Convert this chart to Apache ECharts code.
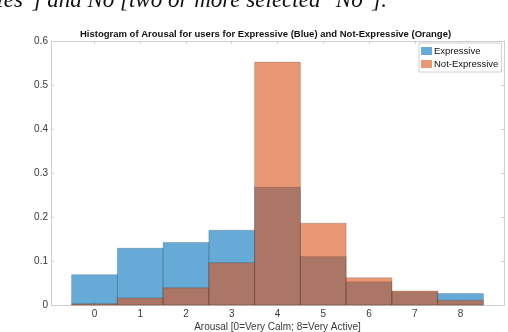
<!DOCTYPE html>
<html><head><meta charset="utf-8">
<script src="https://cdn.jsdelivr.net/npm/echarts@6/dist/echarts.min.js"></script>
<style>html,body{margin:0;padding:0;background:#fff}#c{width:508px;height:332px}</style>
</head><body><div id="c"></div>
<script>
const bins = [0, 1, 2, 3, 4, 5, 6, 7, 8];
const expressive = [0.069, 0.129, 0.142, 0.170, 0.268, 0.110, 0.053, 0.030, 0.026];
const notExpressive = [0.003, 0.016, 0.039, 0.096, 0.552, 0.186, 0.062, 0.032, 0.011];
const yTicks = [0, 0.1, 0.2, 0.3, 0.4, 0.5, 0.6];
const titleText = 'Histogram of Arousal for users for Expressive (Blue) and Not-Expressive (Orange)';
const xLabel = 'Arousal [0=Very Calm; 8=Very Active]';
const docLine = 'Yes"] and No [two or more selected "No"].';

const chart = echarts.init(document.getElementById('c'), null, {renderer: 'canvas'});
const axisCol = '#cfcfcf';
const txtCol = '#3a3a3a';
const font = 'Liberation Sans, Arial, sans-serif';

function mk(values) {
  return bins.map((b, i) => [b, values[i]]);
}
function render(fill) {
  return function (params, api) {
    const x = api.value(0), y = api.value(1);
    const p1 = api.coord([x - 0.5, y]);
    const p2 = api.coord([x + 0.5, 0]);
    return {
      type: 'rect',
      shape: {x: p1[0], y: p1[1], width: p2[0] - p1[0], height: p2[1] - p1[1]},
      style: {fill: fill, stroke: 'rgba(0,0,0,0.22)', lineWidth: 0.8}
    };
  };
}
const xCommon = {
  type: 'value', min: -0.95, max: 8.95,
  axisLine: {show: true, onZero: false, lineStyle: {color: axisCol, width: 1}},
  splitLine: {show: false}
};
const yCommon = {
  type: 'value', min: 0, max: 0.6, interval: 0.1,
  axisLine: {show: true, onZero: false, lineStyle: {color: axisCol, width: 1}},
  splitLine: {show: false}
};
chart.setOption({
  animation: false,
  grid: {left: 51, right: 4, top: 41, bottom: 27, containLabel: false, outerBoundsMode: 'none'},
  title: {
    text: titleText, left: 75, top: 24,
    textStyle: {fontSize: 9.5, fontWeight: 'bold', color: '#111', fontFamily: font}
  },
  graphic: [{
    type: 'text', x: 387, y: 12,
    style: {text: docLine, font: 'italic 23px "Liberation Serif", serif', fill: '#111',
            align: 'right', verticalAlign: 'bottom'}
  }],
  legend: {
    orient: 'vertical', left: 419, top: 43,
    itemWidth: 11, itemHeight: 8, itemGap: 3,
    padding: [3, 3, 3, 2],
    backgroundColor: '#fff', borderColor: '#d0d0d0', borderWidth: 1, borderRadius: 0,
    textStyle: {fontSize: 9.5, color: '#111', fontFamily: font, padding: [0, 0, 0, -3]},
    data: [
      {name: 'Expressive', icon: 'rect', itemStyle: {color: '#66AAD7'}},
      {name: 'Not-Expressive', icon: 'rect', itemStyle: {color: '#E89875'}}
    ]
  },
  xAxis: [
    Object.assign({}, xCommon, {
      position: 'bottom',
      name: xLabel, nameLocation: 'middle', nameGap: 17.5, nameMoveOverlap: false,
      nameTextStyle: {fontSize: 10, color: txtCol, fontFamily: font},
      axisTick: {show: true, inside: true, length: 3, customValues: bins, lineStyle: {color: axisCol}},
      axisLabel: {show: true, customValues: bins, fontSize: 10, color: txtCol, fontFamily: font, margin: 4}
    }),
    Object.assign({}, xCommon, {
      position: 'top',
      axisTick: {show: true, inside: true, length: 3, customValues: bins, lineStyle: {color: axisCol}},
      axisLabel: {show: false}
    })
  ],
  yAxis: [
    Object.assign({}, yCommon, {
      position: 'left',
      axisTick: {show: true, inside: true, length: 3, lineStyle: {color: axisCol}},
      axisLabel: {show: true, fontSize: 10, color: txtCol, fontFamily: font, margin: 3,
        formatter: v => (Math.abs(v) < 1e-9 ? '0' : v.toFixed(1))}
    }),
    Object.assign({}, yCommon, {
      position: 'right',
      axisTick: {show: true, inside: true, length: 3, lineStyle: {color: axisCol}},
      axisLabel: {show: false}
    })
  ],
  series: [
    {name: 'Expressive', type: 'custom', renderItem: render('rgba(0,114,189,0.6)'),
     data: mk(expressive), encode: {x: 0, y: 1}, xAxisIndex: 0, yAxisIndex: 0, z: 2},
    {name: 'Not-Expressive', type: 'custom', renderItem: render('rgba(217,83,25,0.6)'),
     data: mk(notExpressive), encode: {x: 0, y: 1}, xAxisIndex: 0, yAxisIndex: 0, z: 3}
  ]
});
</script>
</body></html>
